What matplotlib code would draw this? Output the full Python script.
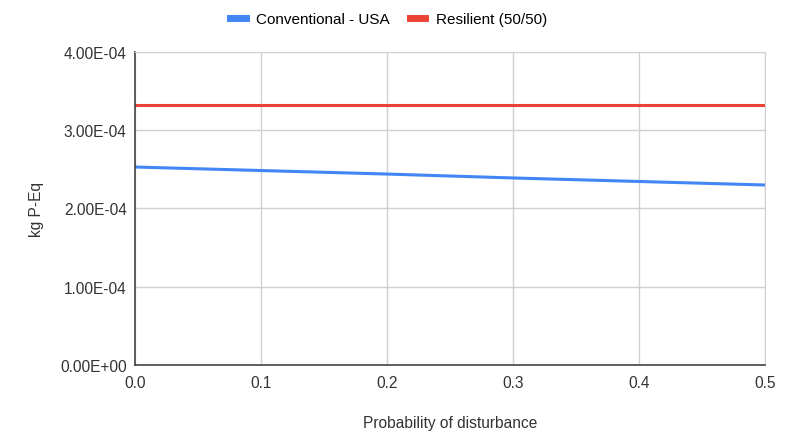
import matplotlib
matplotlib.use("Agg")
import matplotlib.pyplot as plt
from matplotlib.ticker import FuncFormatter

plt.rcParams['font.family'] = ['Liberation Sans', 'DejaVu Sans']

# data
prob = [0.0, 0.1, 0.2, 0.3, 0.4, 0.5]
conventional_usa = [2.53e-4, 2.485e-4, 2.44e-4, 2.39e-4, 2.345e-4, 2.30e-4]
resilient_5050 = [3.32e-4, 3.32e-4, 3.32e-4, 3.32e-4, 3.32e-4, 3.32e-4]
y_ticks = [0, 1e-4, 2e-4, 3e-4, 4e-4]

fig = plt.figure(figsize=(7.9, 4.35), dpi=100)
ax = fig.add_axes([0.171, 0.159, 0.797, 0.719])

ax.plot(prob, conventional_usa, color='#4285f4', lw=2.2, label='Conventional - USA')
ax.plot(prob, resilient_5050, color='#ea4335', lw=2.2, label='Resilient (50/50)')

ax.set_xlim(0, 0.5)
ax.set_ylim(0, 4e-4)
ax.set_xticks(prob)
ax.set_yticks(y_ticks)
ax.xaxis.set_major_formatter(FuncFormatter(lambda v, p: f"{v:.1f}"))
ax.yaxis.set_major_formatter(FuncFormatter(lambda v, p: f"{v:.2E}"))
ax.grid(True, color='#d0d0d0', lw=1)
ax.set_axisbelow(True)
ax.tick_params(length=0, labelsize=11.2, colors='#333333')
ax.tick_params(axis='x', pad=7)
ax.tick_params(axis='y', pad=6)
for s in ['top', 'right']:
    ax.spines[s].set_color('#d0d0d0')
for s in ['left', 'bottom']:
    ax.spines[s].set_color('#444444')
    ax.spines[s].set_linewidth(1.2)

ax.set_xlabel('Probability of disturbance', fontsize=11.2, color='#333333', labelpad=18)
ax.set_ylabel('kg P-Eq', fontsize=11.2, color='#333333')
ax.yaxis.set_label_coords(-0.144, 0.5)

leg = fig.legend(loc='center', bbox_to_anchor=(0.492, 0.953), ncol=2, frameon=False,
                 fontsize=11, handlelength=1.0, handletextpad=0.7, columnspacing=1.3)
for h in leg.get_lines():
    h.set_linewidth(5)

fig.savefig('out.png', dpi=100)
